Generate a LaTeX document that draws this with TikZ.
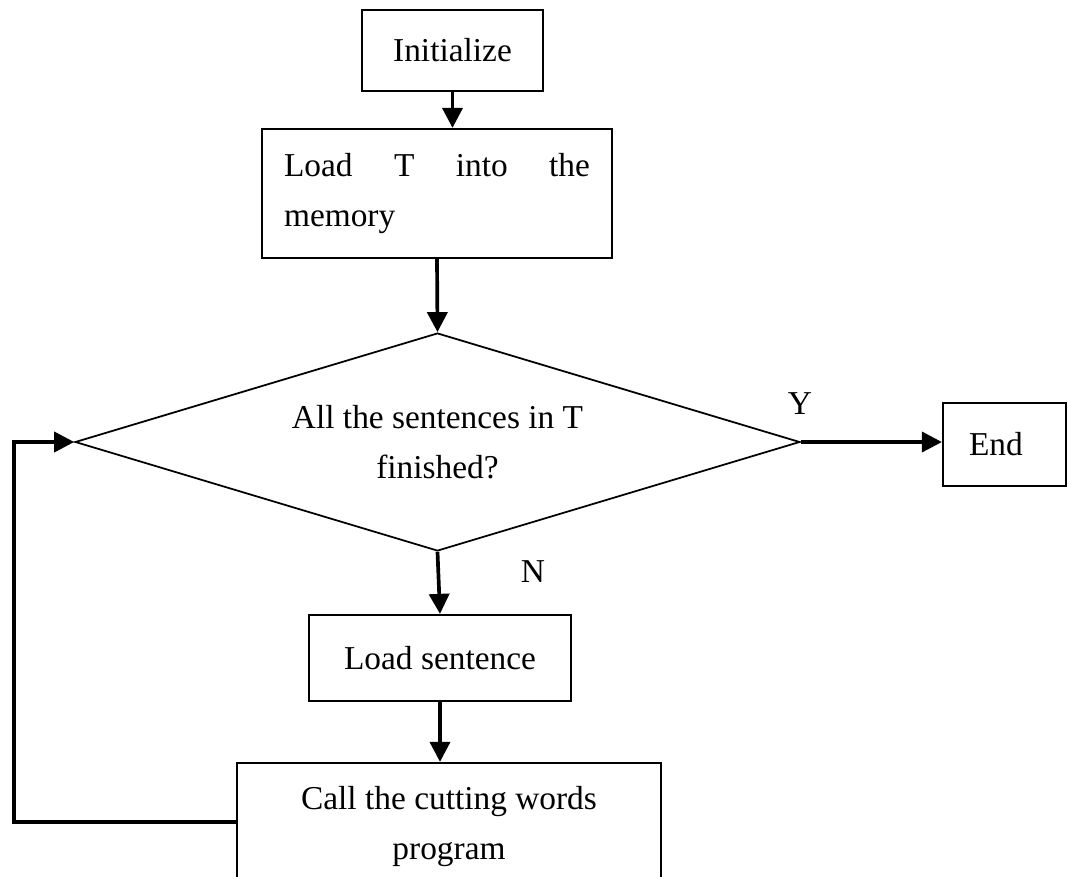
\documentclass[tikz,border=0pt]{standalone}
\usepackage{fontspec}
\setmainfont{Liberation Serif}
\usetikzlibrary{arrows.meta,shapes.geometric}

\begin{document}
\begin{tikzpicture}[x=0.02cm, y=-0.02cm,
  every node/.style={font=\fontsize{19}{28.45}\selectfont},
  stepbox/.style={draw, line width=1.3pt, inner sep=0pt, align=center},
  flow/.style={-{Triangle[length=0.4cm, width=0.4cm]}, line width=2.1pt}]
\useasboundingbox (0,0) rectangle (1068,876);
\clip (0,0) rectangle (1068,876);

\node[stepbox, minimum width=3.62cm, minimum height=1.62cm] (init) at (452.5, 50.5) {Initialize};
\node[stepbox, minimum width=7cm, minimum height=2.58cm, text width=6.12cm, align=left] (load) at (437, 193.5)
  {\hbox to 6.12cm{Load\hfill T\hfill into\hfill the}\\memory};
\node[diamond, draw, line width=1pt, aspect=3.326, minimum width=14.5cm, minimum height=4.36cm, inner sep=0pt, align=center] (test) at (437.5, 442)
  {All the sentences in T\\finished?};
\node[stepbox, minimum width=2.46cm, minimum height=1.66cm, text width=1.42cm, align=left] (end) at (1004.5, 444.5) {End};
\node[stepbox, minimum width=5.24cm, minimum height=1.72cm] (sent) at (440, 658) {Load sentence};
\node[stepbox, minimum width=8.48cm, minimum height=2.56cm] (call) at (449, 827) {Call the cutting words\\program};

\node (yes) at (800, 404) {Y};
\node (no) at (533, 572) {N};

\draw[flow] (init.south) -- (init.south |- load.north);
\draw[flow] (load.south) -- (test.north);
\draw[flow] (test.east) -- (test.east -| end.west);
\draw[flow] (test.south) -- (sent.north);
\draw[flow] (sent.south) -- (sent.south |- call.north);

% back to the test
\coordinate (turn) at (14, 822);
\draw[flow] (call.west |- turn) -- (turn) |- (test.west);
\end{tikzpicture}
\end{document}
